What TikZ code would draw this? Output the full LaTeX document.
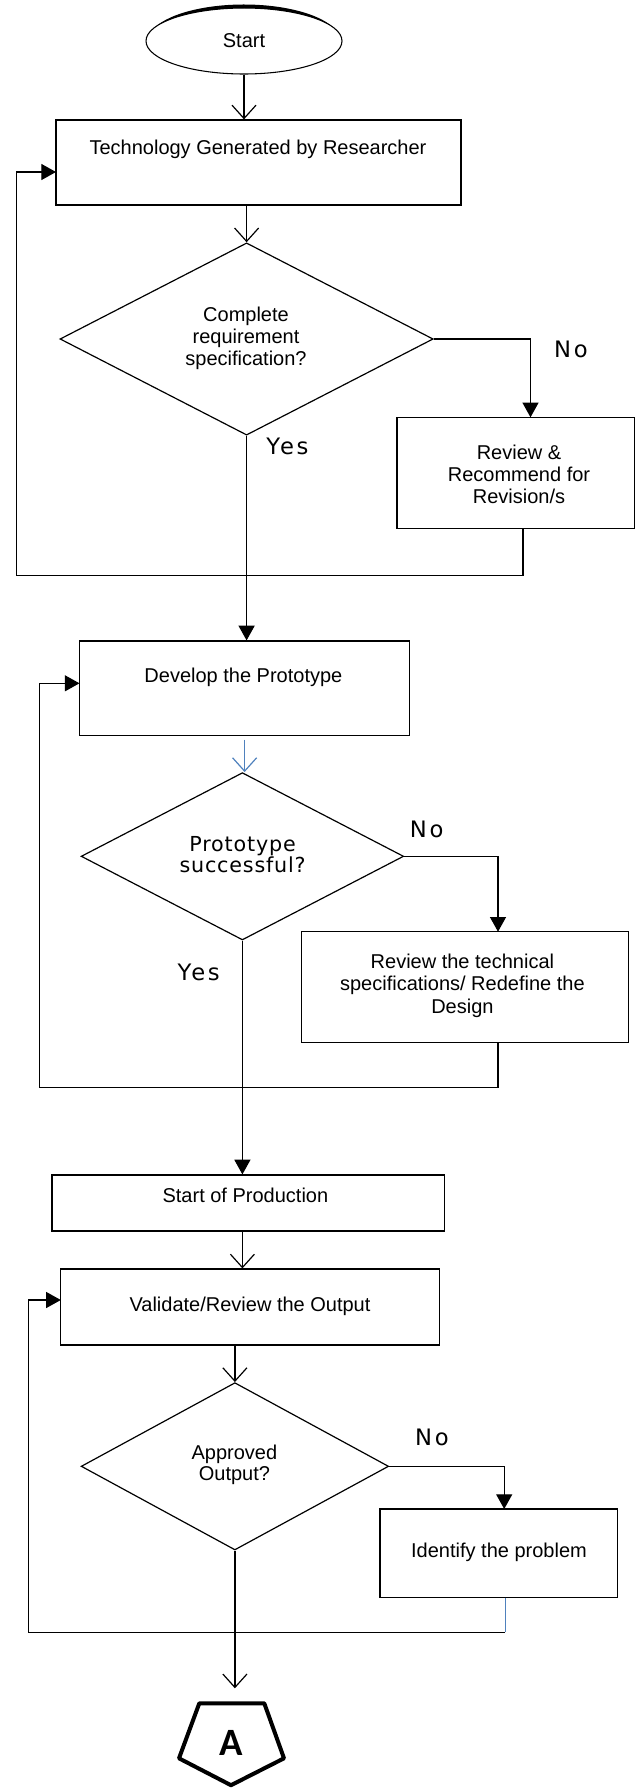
\documentclass[tikz,border=0pt]{standalone}
\usepackage{fontspec}
\setmainfont{Liberation Sans}
\newfontfamily\dvs{DejaVu Sans}[LetterSpace=4]
\newfontfamily\dvsw{DejaVu Sans}[LetterSpace=12]
\newfontfamily\carl{Carlito}
\usetikzlibrary{arrows.meta,shapes.geometric,fit}
\definecolor{lineblue}{RGB}{79,129,189}
\begin{document}
\begin{tikzpicture}[x=0.75pt,y=-0.75pt,
  box/.style={draw, line width=0.9pt, inner sep=0pt},
  dia/.style={draw, diamond, line width=0.9pt, inner sep=0pt},
  txt/.style={font=\fontsize{15}{16.5}\selectfont, align=center, inner sep=0pt},
  lbl/.style={font=\dvsw\fontsize{17}{20}\selectfont, inner sep=0pt},
  conn/.style={line width=0.9pt},
  fillarr/.style={conn, -{Triangle[length=11pt,width=12pt]}},
  openarr/.style={conn, -{Straight Barb[length=10pt,width=18pt]}},
  bluearr/.style={conn, draw=lineblue, -{Straight Barb[length=10pt,width=18pt]}},
]
\useasboundingbox (0,0) rectangle (636,1788);

% Start
\node[draw, ellipse, line width=0.8pt, minimum width=147pt, minimum height=49.5pt,
      inner sep=0pt, font=\fontsize{15}{16.5}\selectfont] (start) at (244,41) {Start};
\begin{scope}[shift={(244,41)}]
  \fill (206:98 and 33) arc[start angle=206, end angle=334, x radius=98, y radius=33]
        -- (334:96 and 36.5) arc[start angle=334, end angle=206, x radius=96, y radius=36.5] -- cycle;
\end{scope}

% Boxes
\node[box, fit={(56,120) (461,205)}] (b1) {};
\node[txt] (b1t) at (258,149) {Technology Generated by Researcher};

\node[box, fit={(397,417.3) (634.5,528.3)}] (b2) {};
\node[txt] (b2t) at (519,474) {Review \&\\Recommend for\\Revision/s};

\node[box, fit={(79.5,641) (409.7,735.7)}] (b3) {};
\node[txt] (b3t) at (243.4,677.3) {Develop the Prototype};

\node[box, fit={(301.4,931.7) (628.7,1042.3)}] (b4) {};
\node[txt, font=\fontsize{15}{17}\selectfont] (b4t) at (462.4,985.7) {Review the technical\\specifications/ Redefine the\\Design};

\node[box, fit={(52,1175) (444.5,1231)}] (b5) {};
\node[txt] (b5t) at (245.4,1195) {Start of Production};

\node[box, fit={(60.8,1269) (439.3,1345)}] (b6) {};
\node[txt] (b6t) at (250,1306.7) {Validate/Review the Output};

\node[box, fit={(380,1509) (617.3,1597.7)}] (b7) {};
\node[txt] (b7t) at (499,1552.3) {Identify the problem};

% Diamonds
\node[dia, minimum width=279.9pt, minimum height=144.2pt] (d1) at (246.6,339) {};
\node[txt] (d1t) at (246,338) {Complete\\requirement\\specification?};

\node[dia, minimum width=241.9pt, minimum height=125.5pt] (d2) at (242.4,856.3) {};
\node[txt, font=\dvs\fontsize{15.5}{16.2}\selectfont] (d2t) at (242.6,854.7) {Prototype\\successful?};

\node[dia, minimum width=230.6pt, minimum height=125.5pt] (d3) at (234.9,1466.3) {};
\node[txt, font=\fontsize{15}{16}\selectfont] (d3t) at (234.4,1465) {Approved\\Output?};

% Connector A
\draw[line width=3pt, line join=round] (199.3,1703.3) -- (264.3,1703.3) -- (284,1758.3) -- (231,1785.2) -- (179,1758.3) -- cycle;
\node[font=\carl\bfseries\fontsize{29}{30}\selectfont, inner sep=0pt] (conA) at (231,1743.3) {A};
\coordinate (pin) at (236.5,1688.3);

% Labels
\node[lbl] (no1) at (571,349) {No};
\node[lbl] (yes1) at (287.5,446) {Yes};
\node[lbl] (no2) at (426.7,829.3) {No};
\node[lbl] (yes2) at (198.7,972.7) {Yes};
\node[lbl] (no3) at (432,1437.3) {No};

% Main flow
\draw[openarr] (start.south) -- (start.south |- b1.north);
\draw[openarr] (d1.north |- b1.south) -- (d1.north);
\draw[fillarr] (d1.south) -- (d1.south |- b3.north);
\draw[bluearr] ([yshift=-2.5pt]b3.south) -- (b3.south |- d2.north);
\draw[fillarr] (d2.south) -- (d2.south |- b5.north);
\draw[openarr] (d2.south |- b5.south) -- (d2.south |- b6.north);
\draw[openarr] (d3.north |- b6.south) -- (d3.north);
\draw[openarr] (d3.south) -- (d3.south |- pin);

% No branches
\coordinate (b2in) at (530.5,417.3);
\draw[fillarr] (d1.east) -| (b2in);
\coordinate (b4in) at (498,931.7);
\draw[fillarr] (d2.east) -| (b4in);
\coordinate (b7in) at (504.2,1509);
\draw[fillarr] (d3.east) -| (b7in);

% Loops
\coordinate (l1s) at (523,528.3);
\coordinate (l1c) at (16.5,575.7);
\coordinate (b1in) at (56,172);
\draw[fillarr] (l1s) |- (l1c) |- (b1in);

\coordinate (l2s) at (498,1042.3);
\coordinate (l2c) at (39.3,1087.7);
\coordinate (b3in) at (79.5,683.3);
\draw[fillarr] (l2s) |- (l2c) |- (b3in);

\coordinate (l3s) at (505,1597.7);
\coordinate (l3m) at (505,1632.3);
\coordinate (l3c) at (28.4,1632.3);
\coordinate (b6in) at (60.8,1300);
\draw[line width=0.6pt, draw=lineblue] (l3s) -- (l3m);
\draw[fillarr] (l3m) -- (l3c) |- (b6in);
\end{tikzpicture}
\end{document}
